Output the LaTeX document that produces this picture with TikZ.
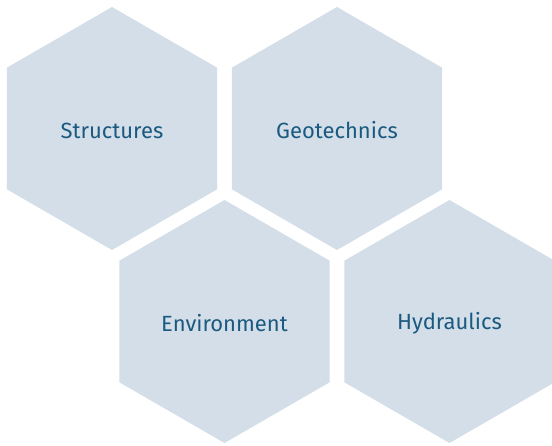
\documentclass[tikz,border=0pt]{standalone}
\usepackage{fontspec}
\setmainfont{Fira Sans}
\definecolor{hexfill}{HTML}{D3DEE8}
\definecolor{hextext}{HTML}{1B5A80}
\begin{document}
\begin{tikzpicture}[x=1pt,y=1pt,
  hexlabel/.style={text=hextext,font=\fontsize{22}{26}\selectfont,inner sep=0pt},
  hexshape/.style={fill=hexfill}]
\useasboundingbox (0,0) rectangle (552,445);
\def\R{121.5}
\coordinate (c1) at (112,316.5);
\coordinate (c2) at (337,316.5);
\coordinate (c3) at (224.5,123.5);
\coordinate (c4) at (449.5,123.5);
\foreach \c in {c1,c2,c3,c4}{
  \fill[hexshape] (\c) ++(90:\R) -- ++(210:\R) -- ++(270:\R) -- ++(330:\R) -- ++(30:\R) -- ++(90:\R) -- cycle;
}
\node[hexlabel] (t1) at ([yshift=-2]c1) {Structures};
\node[hexlabel] (t2) at ([yshift=-2]c2) {Geotechnics};
\node[hexlabel] (t3) at ([yshift=-2]c3) {Environment};
\node[hexlabel] (t4) at ([yshift=-2]c4) {Hydraulics};
\end{tikzpicture}
\end{document}
